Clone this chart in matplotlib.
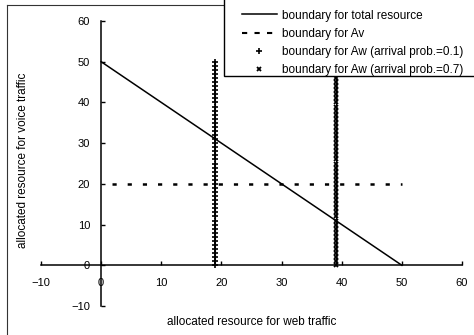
import matplotlib
matplotlib.use("Agg")
import matplotlib.pyplot as plt
from matplotlib.patches import Rectangle
from matplotlib.lines import Line2D

plt.rcParams['font.family'] = ['Liberation Sans', 'DejaVu Sans']

# data
total_x = [0, 50]
total_y = [50, 0]
av_x = [0, 50]
av_y = [20, 20]
aw1_x_value = 19
aw2_x_value = 39
aw_y = [0, 1, 2, 3, 4, 5, 6, 7, 8, 9, 10, 11, 12, 13, 14, 15, 16, 17, 18, 19,
        20, 21, 22, 23, 24, 25, 26, 27, 28, 29, 30, 31, 32, 33, 34, 35, 36, 37,
        38, 39, 40, 41, 42, 43, 44, 45, 46, 47, 48, 49, 50]
ticks = [-10, 0, 10, 20, 30, 40, 50, 60]
labels = ["boundary for total resource", "boundary for Av",
          "boundary for Aw (arrival prob.=0.1)", "boundary for Aw (arrival prob.=0.7)"]

W, H = 474, 335
fig = plt.figure(figsize=(W / 100, H / 100), dpi=100)
ax = fig.add_axes([41 / W, 1 - 306 / H, (462 - 41) / W, (306 - 21) / H])
ax.set_xlim(-10, 60)
ax.set_ylim(-10, 60)

for s in ['top', 'right']:
    ax.spines[s].set_visible(False)
ax.spines['left'].set_position('zero')
ax.spines['bottom'].set_position('zero')
ax.spines['left'].set_linewidth(1.1)
ax.spines['bottom'].set_linewidth(1.1)

ax.set_xticks(ticks)
ax.set_yticks(ticks)
ax.set_xticklabels([str(t).replace('-', '\u2212') for t in ticks])
ax.set_yticklabels([str(t).replace('-', '\u2212') for t in ticks])
ax.tick_params(axis='both', direction='in', length=3, width=1, labelsize=8)
ax.tick_params(axis='x', pad=9)
ax.tick_params(axis='y', pad=8)

ax.plot(total_x, total_y, color='black', lw=1.1, zorder=3)
ax.plot(av_x, av_y, color='black', lw=1.8, linestyle=(1.67, (1.67, 4.4)), zorder=3)
ax.plot([aw1_x_value] * len(aw_y), aw_y, color='black', lw=0.8, marker='+',
        ms=5, mew=1.2, zorder=3)
ax.plot([aw2_x_value] * len(aw_y), aw_y, color='black', lw=0.8, marker='x',
        ms=3.5, mew=1.3, zorder=3)

fig.text(252 / W, 1 - 322 / H, "allocated resource for web traffic",
         ha='center', va='center', fontsize=8.5)
fig.text(23 / W, 1 - 160 / H, "allocated resource for voice traffic",
         ha='center', va='center', fontsize=8.5, rotation=90)

# outer frame
fig.add_artist(Line2D([7 / W, 7 / W], [0, 1 - 5 / H], color='#333333', lw=0.8))
fig.add_artist(Line2D([7 / W, 1], [1 - 5 / H, 1 - 5 / H], color='#333333', lw=0.8))

# legend box
rect = Rectangle((224 / W, 1 - 76 / H), (W + 10 - 224) / W, 76 / H + 0.01,
                 transform=fig.transFigure, facecolor='white', edgecolor='black',
                 lw=1.0, zorder=10)
fig.add_artist(rect)

handles = [
    Line2D([], [], color='black', lw=1.1),
    Line2D([], [], color='black', lw=1.5, linestyle=(0, (2.5, 3.5))),
    Line2D([], [], color='black', lw=0, marker='+', ms=5, mew=1.2),
    Line2D([], [], color='black', lw=0, marker='x', ms=3.5, mew=1.3),
]
leg = fig.legend(handles, labels, loc='upper left',
                 bbox_to_anchor=(238 / W, 1 - 6 / H), frameon=False,
                 fontsize=8.5, handlelength=3.0, handletextpad=0.4,
                 labelspacing=0.52, borderaxespad=0, borderpad=0.3)
leg.set_zorder(11)

fig.savefig("out.png", dpi=100)
